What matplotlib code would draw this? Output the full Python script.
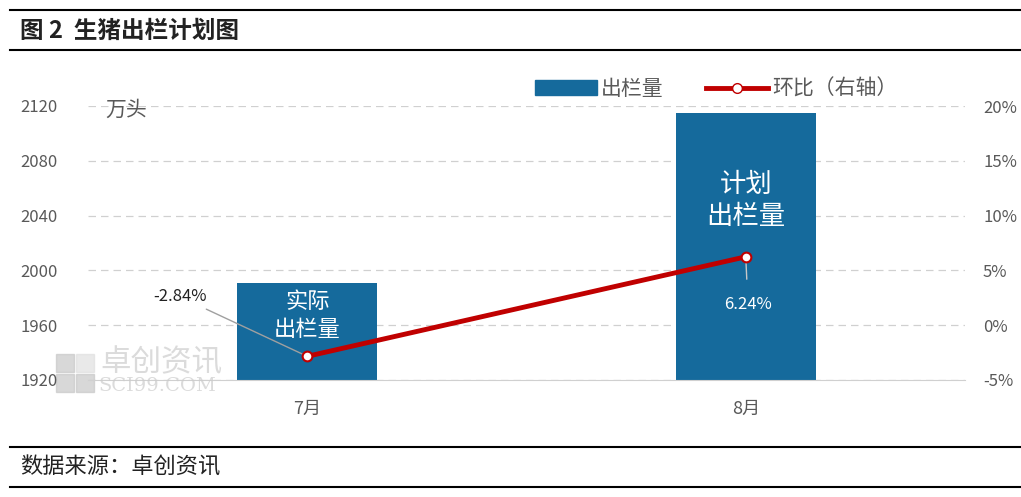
import matplotlib.pyplot as plt
from matplotlib.lines import Line2D
from matplotlib.patches import Patch, Rectangle

plt.rcParams['font.family'] = ['Noto Sans CJK SC', 'DejaVu Sans']

months = ['7月', '8月']
volume = [1991, 2115]          # 万头
mom = [-2.84, 6.24]            # 环比 %
bar_text = ['实际\n出栏量', '计划\n出栏量']

blue = '#156a9c'
red = '#c00000'
grey = '#595959'

fig = plt.figure(figsize=(10.21, 4.97), dpi=100)

# header / footer rules
for y in [1 - 10 / 497, 1 - 50 / 497, 1 - 447 / 497, 1 - 487 / 497]:
    fig.add_artist(Line2D([0.01, 1.0], [y, y], color='black', lw=1.5))
fig.text(0.02, 1 - 31 / 497, '图 2  生猪出栏计划图', fontsize=17, fontweight='bold',
         va='center', ha='left', color='#222222')
fig.text(0.02, 1 - 467 / 497, '数据来源：卓创资讯', fontsize=16, va='center', ha='left',
         color='#222222')

# watermark
for (wx, wy, c) in [(56, 352, '#c8c8c8'), (56, 372, '#c8c8c8'), (76, 372, '#c8c8c8'),
                    (76, 352, '#e0e0e0')]:
    fig.add_artist(Rectangle((wx / 1021, 1 - (wy + 20) / 497), 18 / 1021, 18 / 497,
                             transform=fig.transFigure, color=c, alpha=0.7, zorder=0))
fig.text(100 / 1021, 1 - 363 / 497, '卓创资讯', fontsize=22, color='#cccccc',
         alpha=0.7, va='center', ha='left', zorder=0)
fig.text(98 / 1021, 1 - 386 / 497, 'SCI99.COM', fontsize=14, color='#cccccc',
         alpha=0.7, va='center', ha='left', family='DejaVu Serif', zorder=0)

ax = fig.add_axes([88 / 1021, 1 - 380 / 497, (965 - 88) / 1021, (380 - 106) / 497])
ax.patch.set_alpha(0)
x = range(len(months))
ax.bar(x, volume, width=0.32, color=blue, zorder=2)
ax.set_ylim(1920, 2120)
ax.set_yticks(range(1920, 2121, 40))
ax.set_xlim(-0.5, 1.5)
ax.set_xticks(list(x))
ax.set_xticklabels(months)
ax.tick_params(axis='x', length=0, labelsize=13, colors=grey, pad=14)
ax.tick_params(axis='y', length=0, labelsize=12, colors=grey, pad=22)
ax.grid(axis='y', linestyle=(0, (6, 4)), color='#d0d0d0', lw=0.9, zorder=0)
for s in ['top', 'left', 'right']:
    ax.spines[s].set_visible(False)
ax.spines['bottom'].set_color('#d0d0d0')

ax.text(0, 1967, bar_text[0], color='white', ha='center', va='center',
        fontsize=16, linespacing=1.3, zorder=3)
ax.text(1, 2051, bar_text[1], color='white', ha='center', va='center',
        fontsize=19, linespacing=1.25, zorder=3)

ax.text(-0.46, 2117, '万头', fontsize=15, color=grey, va='center', ha='left')

ax2 = ax.twinx()
ax2.plot(list(x), mom, color=red, lw=3.5, marker='o', markersize=7,
         markerfacecolor='white', markeredgecolor=red, markeredgewidth=1.5, zorder=4)
ax2.set_ylim(-5, 20)
ax2.set_yticks(range(-5, 21, 5))
ax2.set_yticklabels([f'{v}%' for v in range(-5, 21, 5)])
ax2.tick_params(axis='y', length=0, labelsize=12, colors=grey, pad=13)
for s in ax2.spines.values():
    s.set_visible(False)

ax2.annotate(f'{mom[0]:.2f}%', xy=(0, mom[0]), xytext=(-0.23, 2.6),
             ha='right', va='center', fontsize=12, color='#222222',
             arrowprops=dict(arrowstyle='-', color='#a0a0a0', lw=1,
                             shrinkA=2, shrinkB=3))
ax2.annotate(f'{mom[1]:.2f}%', xy=(1, mom[1]), xytext=(1.005, 1.9),
             ha='center', va='center', fontsize=12, color='white',
             arrowprops=dict(arrowstyle='-', color='#c8c8c8', lw=1,
                             shrinkA=10, shrinkB=3))

handles = [Patch(color=blue),
           Line2D([0], [0], color=red, lw=3.5, marker='o', markersize=7,
                  markerfacecolor='white', markeredgecolor=red)]
fig.legend(handles, ['出栏量', '环比（右轴）'], loc='center', ncol=2,
           bbox_to_anchor=(716 / 1021, 1 - 89 / 497), frameon=False,
           fontsize=15, handlelength=3.0, handletextpad=0.2, columnspacing=2.0,
           labelcolor=grey)

fig.savefig('out.png', dpi=100)
